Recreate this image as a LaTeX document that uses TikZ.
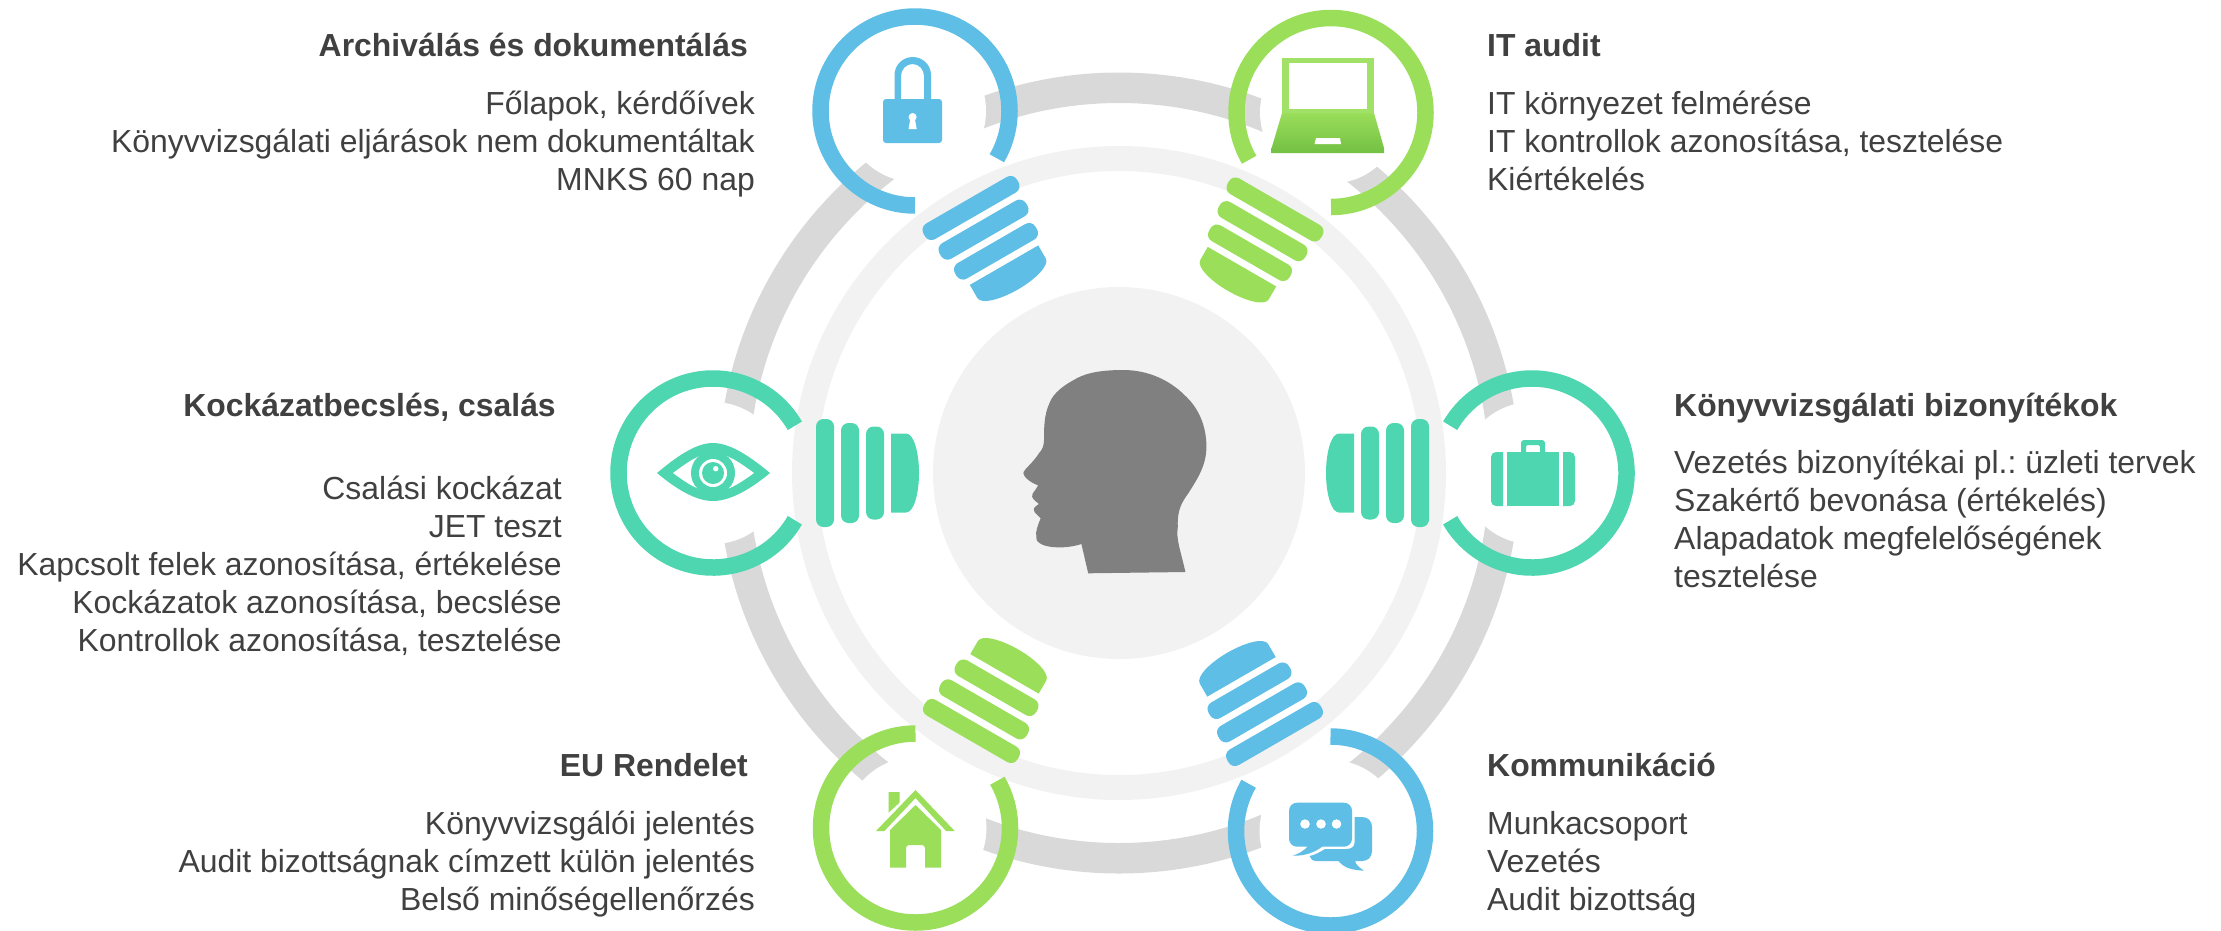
\documentclass[tikz,border=0pt]{standalone}
\usepackage{fontspec}
\setmainfont{Liberation Sans}
\definecolor{cblue}{HTML}{5EBEE5}
\definecolor{cgreen}{HTML}{9ADE5A}
\definecolor{cteal}{HTML}{4DD6B0}
\definecolor{ringgrey}{HTML}{D9D9D9}
\definecolor{ringlight}{HTML}{F2F2F2}
\definecolor{headgrey}{HTML}{808080}
\definecolor{txt}{HTML}{404040}
\tikzset{
  bodyR/.style={font=\fontsize{31.9pt}{38.2pt}\selectfont\frenchspacing,text=txt,inner sep=0pt,anchor=north east,align=right},
  bodyL/.style={font=\fontsize{31.9pt}{38.2pt}\selectfont\frenchspacing,text=txt,inner sep=0pt,anchor=north west,align=left},
  headR/.style={font=\fontsize{31.9pt}{38.2pt}\selectfont\bfseries,text=txt,inner sep=0pt,anchor=north east,align=right},
  headL/.style={font=\fontsize{31.9pt}{38.2pt}\selectfont\bfseries,text=txt,inner sep=0pt,anchor=north west,align=left},
}
\newcommand{\fs}{\rule{0pt}{24pt}}
\newcommand{\ringarc}[4]{\draw[#4,line width=16.5pt] ([shift={(#2:94.5)}]#1) arc[start angle=#2,end angle=#3,radius=94.5];}
\newcommand{\bulbbase}[3]{\begin{scope}[shift={(#1)},rotate=#2]
  \fill[#3,rounded corners=7.5pt] (103,-54) rectangle (121,54);
  \fill[#3,rounded corners=7.5pt] (128,-50) rectangle (146,50);
  \fill[#3,rounded corners=7.5pt] (153,-46.5) rectangle (171,46.5);
  \fill[#3] (178,-39.5) -- (193,-39.5) .. controls (201,-39.5) and (206,-20) .. (206,0)
     .. controls (206,20) and (201,39.5) .. (193,39.5) -- (178,39.5) -- cycle;
\end{scope}}
\begin{document}
\begin{tikzpicture}[x=1pt,y=1pt,yscale=-1]
\useasboundingbox (0,0) rectangle (2221,930);
% rings
\fill[ringlight] (1119,473) circle[radius=186];
\draw[ringgrey,line width=30.5pt] (1119,473) circle[radius=385.25];
\foreach \c in {{915,111},{1331,112.5},{713,473},{1532,473},{915.5,828},{1330.5,831}}
  \fill[white] (\c) circle[radius=71];
\draw[ringlight,line width=25pt] (1119,473) circle[radius=314.5];
% bulbs
\bulbbase{915,111}{60}{cblue}
\bulbbase{1331,112.5}{120}{cgreen}
\bulbbase{713,473}{0}{cteal}
\bulbbase{1532,473}{180}{cteal}
\bulbbase{915.5,828}{-60}{cgreen}
\bulbbase{1330.5,831}{-120}{cblue}
% open circles
\ringarc{915,111}{90}{390}{cblue}
\ringarc{1331,112.5}{90}{-210}{cgreen}
\ringarc{713,473}{30}{330}{cteal}
\ringarc{1532,473}{-150}{150}{cteal}
\ringarc{915.5,828}{-90}{-390}{cgreen}
\ringarc{1330.5,831}{-90}{210}{cblue}
% head
\fill[headgrey] (1088.2,573.3) -- (1185.4,572)
  .. controls (1180,548) and (1176,540) .. (1177.8,526.7)
  .. controls (1177,510) and (1182,502) .. (1188.3,493.3)
  .. controls (1198,478) and (1206.4,465) .. (1206.4,446.7)
  .. controls (1206.4,425) and (1198,408) .. (1186.2,396.7)
  .. controls (1170,380) and (1148,370) .. (1123.1,370)
  .. controls (1105,370) and (1088,372) .. (1076.8,378.3)
  .. controls (1064,385) and (1053,393) .. (1049.4,403.3)
  .. controls (1044,415) and (1044,428) .. (1044,440)
  .. controls (1044,446) and (1042,450) .. (1038.9,453.3)
  .. controls (1033,463) and (1023,470) .. (1023.4,473.3)
  .. controls (1023.5,477) and (1031,483) .. (1038.1,485.3)
  .. controls (1036,490) and (1031,494) .. (1032.2,496.7)
  .. controls (1033,500) and (1037,502) .. (1038.9,504)
  .. controls (1036,506) and (1033,508) .. (1033.9,510)
  .. controls (1034,513) and (1039,516) .. (1040.6,518.3)
  .. controls (1038,525) and (1035,532) .. (1036.4,536.7)
  .. controls (1036,541) and (1038,542) .. (1041,544)
  .. controls (1048,548) and (1066,549) .. (1081.4,544) -- cycle;
% lock
\fill[cblue,rounded corners=3pt] (883,99) rectangle (942,143);
\fill[cblue] (894.5,100) -- (894.5,75) arc[start angle=180,end angle=360,x radius=18.25,y radius=18] -- (931,100) -- (924,100) -- (924,76) arc[start angle=360,end angle=180,x radius=11.5,y radius=12] -- (901,100) -- cycle;
\fill[white] (912.6,117) circle[radius=4];
\fill[white] (910.5,118) -- (908.5,129) -- (916.7,129) -- (914.7,118) -- cycle;
% laptop
\fill[cgreen!92!white] (1282,58) rectangle (1374,114);
\fill[white] (1289,63) rectangle (1367,109);
\shade[top color=cgreen,bottom color=cgreen!88!green!85!black] (1282,113) -- (1374,113) -- (1384,148) -- (1384,153) -- (1271.6,153) -- (1271.6,148) -- cycle;
\fill[white] (1316,138) -- (1340,138) -- (1341,144) -- (1314.5,144) -- cycle;
% eye
\fill[cteal] (657,473) .. controls (675,458) and (695,443) .. (713,443) .. controls (731,443) and (752,458) .. (770,473)
  .. controls (752,488) and (731,501) .. (713,501) .. controls (695,501) and (675,488) .. (657,473) -- cycle;
\fill[white] (673,473) .. controls (688,462) and (700,453) .. (713,453) .. controls (726,453) and (739,462) .. (754,473)
  .. controls (739,484) and (726,492) .. (713,492) .. controls (700,492) and (688,484) .. (673,473) -- cycle;
\fill[cteal] (713,473) circle[radius=22];
\fill[white] (713,473) circle[radius=14];
\fill[cteal] (713,473) circle[radius=11];
\fill[white] (715.7,468.7) circle[radius=2.7];
% briefcase
\fill[cteal] (1521,452) -- (1521,443) arc[start angle=180,end angle=270,radius=3] -- (1542,440) arc[start angle=270,end angle=360,radius=3] -- (1545,452) -- (1540,452) -- (1540,447) arc[start angle=0,end angle=-90,radius=2] -- (1528,445) arc[start angle=270,end angle=180,radius=2] -- (1526,452) -- cycle;
\fill[cteal] (1507,452) rectangle (1559,506);
\fill[cteal] (1503,452) -- (1496,452) arc[start angle=270,end angle=180,radius=5] -- (1491,501) arc[start angle=180,end angle=90,radius=5] -- (1503,506) -- cycle;
\fill[cteal] (1563,452) -- (1570,452) arc[start angle=270,end angle=360,radius=5] -- (1575,501) arc[start angle=0,end angle=90,radius=5] -- (1563,506) -- cycle;
% house
\fill[cgreen] (888.6,792) -- (899.5,792) -- (899.5,802.7) -- (888.6,812.7) -- cycle;
\fill[cgreen] (915.5,790) -- (954.7,831) -- (946,831) -- (915.5,798) -- (884.4,831) -- (876,831) -- cycle;
\fill[cgreen] (915.5,805) -- (941,830) -- (941,867.7) -- (925,867.7) -- (925,848) arc[start angle=0,end angle=-90,radius=3] -- (909,845) arc[start angle=270,end angle=180,radius=3] -- (906,867.7) -- (890,867.7) -- (890,830) -- cycle;
% chat
\fill[cblue] (1354.5,817) -- (1362,817) .. controls (1368,817) and (1372,821) .. (1372,827) -- (1372,851) .. controls (1372,857) and (1368,861) .. (1362,861) -- (1355,861)
  .. controls (1356,865) and (1360,868) .. (1364,870.7) .. controls (1352,870) and (1344,868) .. (1338.5,861) -- (1316.6,861) .. controls (1313,861) and (1310,859) .. (1309.5,856) .. controls (1315,855) and (1320,852) .. (1325,849) -- (1346,849) .. controls (1351,849) and (1354.5,847) .. (1354.5,842.7) -- cycle;
\fill[cblue,rounded corners=8pt] (1289,802.7) rectangle (1352,846.7);
\fill[cblue] (1304,846) -- (1308,846) .. controls (1304,851) and (1298,854) .. (1292.6,855.7) .. controls (1304,856) and (1314,853) .. (1323,846) -- cycle;
\foreach \xx in {1305,1321,1336.5} \fill[white] (\xx,824) ellipse[x radius=4.8,y radius=4.7];
% texts
\node[headR] (h1) at (748,32) {\fs Archiválás és dokumentálás};
\node[bodyR] (b1) at (755,90) {\fs Főlapok, kérdőívek\\ Könyvvizsgálati eljárások nem dokumentáltak\\ MNKS 60 nap};
\node[headR] (h2) at (556,392) {\fs Kockázatbecslés, csalás};
\node[bodyR] (b2) at (562,474.8) {\fs Csalási kockázat\\ JET teszt\\ Kapcsolt felek azonosítása, értékelése\\ Kockázatok azonosítása, becslése\\ Kontrollok azonosítása, tesztelése};
\node[headR] (h3) at (748,752.5) {\fs EU Rendelet};
\node[bodyR] (b3) at (755,809.8) {\fs Könyvvizsgálói jelentés\\ Audit bizottságnak címzett külön jelentés\\ Belső minőségellenőrzés};
\node[headL] (h4) at (1487,32) {\fs IT audit};
\node[bodyL] (b4) at (1487,90) {\fs IT környezet felmérése\\ IT kontrollok azonosítása, tesztelése\\ Kiértékelés};
\node[headL] (h5) at (1674,392) {\fs Könyvvizsgálati bizonyítékok};
\node[bodyL] (b5) at (1674,448.8) {\fs Vezetés bizonyítékai pl.: üzleti tervek\\ Szakértő bevonása (értékelés)\\ Alapadatok megfelelőségének\\ tesztelése};
\node[headL] (h6) at (1487,752.5) {\fs Kommunikáció};
\node[bodyL] (b6) at (1487,809.8) {\fs Munkacsoport\\ Vezetés\\ Audit bizottság};
\end{tikzpicture}
\end{document}
